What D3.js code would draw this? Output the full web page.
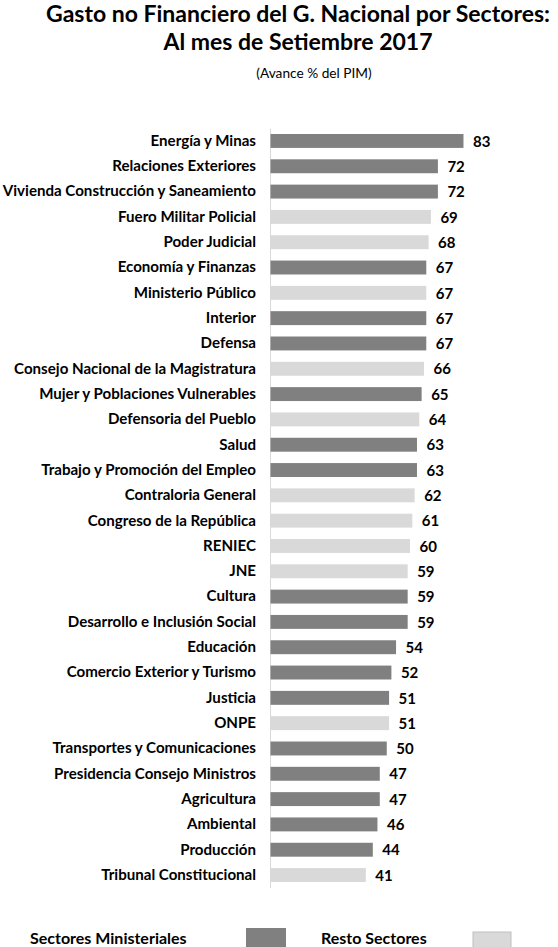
<!DOCTYPE html>
<html>
<head>
<meta charset="utf-8">
<script src="https://cdn.jsdelivr.net/npm/d3@7"></script>
<style>
  html, body { margin: 0; padding: 0; background: #fff; }
  svg text { font-family: Lato, "Noto Sans", sans-serif; }
</style>
</head>
<body>
<div id="chart"></div>
<script>
// Data, top to bottom
const sectors = [
  'Energía y Minas', 'Relaciones Exteriores', 'Vivienda Construcción y Saneamiento',
  'Fuero Militar Policial', 'Poder Judicial', 'Economía y Finanzas', 'Ministerio Público',
  'Interior', 'Defensa', 'Consejo Nacional de la Magistratura', 'Mujer y Poblaciones Vulnerables',
  'Defensoria del Pueblo', 'Salud', 'Trabajo y Promoción del Empleo', 'Contraloria General',
  'Congreso de la República', 'RENIEC', 'JNE', 'Cultura', 'Desarrollo e Inclusión Social',
  'Educación', 'Comercio Exterior y Turismo', 'Justicia', 'ONPE', 'Transportes y Comunicaciones',
  'Presidencia Consejo Ministros', 'Agricultura', 'Ambiental', 'Producción', 'Tribunal Constitucional'
];
const avance = [83, 72, 72, 69, 68, 67, 67, 67, 67, 66, 65, 64, 63, 63, 62, 61, 60, 59, 59, 59,
  54, 52, 51, 51, 50, 47, 47, 46, 44, 41];
// M = Sectores Ministeriales, R = Resto Sectores
const group = ['M', 'M', 'M', 'R', 'R', 'M', 'R', 'M', 'M', 'R', 'M', 'R', 'M', 'M', 'R',
  'R', 'R', 'R', 'M', 'M', 'M', 'M', 'M', 'R', 'M', 'M', 'M', 'M', 'M', 'R'];
const legendLabels = ['Sectores Ministeriales', 'Resto Sectores'];

const width = 558;
const height = 947;
const DARK = '#808080';
const LIGHT = '#d9d9d9';

const rows = sectors.map((s, i) => ({ name: s, value: avance[i], group: group[i] }));

const svg = d3.select('#chart').append('svg')
  .attr('width', width)
  .attr('height', height);

// titles
svg.append('text')
  .attr('x', 298).attr('y', 22)
  .attr('text-anchor', 'middle')
  .attr('font-size', 23).attr('font-weight', 'bold')
  .text('Gasto no Financiero del G. Nacional por Sectores:');
svg.append('text')
  .attr('x', 298).attr('y', 50)
  .attr('text-anchor', 'middle')
  .attr('font-size', 23).attr('font-weight', 'bold')
  .text('Al mes de Setiembre 2017');
svg.append('text')
  .attr('x', 314).attr('y', 78)
  .attr('text-anchor', 'middle')
  .attr('font-size', 13.7)
  .text('(Avance % del PIM)');

// scales
const x = d3.scaleLinear().domain([0, 90]).range([270, 270 + 90 * 2.325]);
const y = d3.scaleBand()
  .domain(sectors)
  .range([128.3, 887.7])
  .paddingInner(0.45)
  .paddingOuter(0.225);

const colorScale = d3.scaleOrdinal().domain(['M', 'R']).range([DARK, LIGHT]);

// category axis
const axis = svg.append('g')
  .attr('transform', `translate(${x(0)},0)`)
  .call(d3.axisLeft(y).tickSize(0).tickSizeOuter(0).tickPadding(14));
axis.select('.domain').attr('stroke', LIGHT);
axis.selectAll('text')
  .attr('font-size', 15.1)
  .attr('font-weight', 'bold')
  .attr('fill', '#000')
  .attr('font-family', 'Lato, "Noto Sans", sans-serif');

// bars
svg.append('g')
  .selectAll('rect')
  .data(rows)
  .enter()
  .append('rect')
  .attr('x', x(0) + 0.5)
  .attr('y', d => y(d.name))
  .attr('width', d => x(d.value) - x(0))
  .attr('height', y.bandwidth())
  .attr('fill', d => colorScale(d.group));

// value labels
svg.append('g')
  .selectAll('text')
  .data(rows)
  .enter()
  .append('text')
  .attr('x', d => x(d.value) + 10)
  .attr('y', d => y(d.name) + y.bandwidth() / 2)
  .attr('dy', '0.38em')
  .attr('font-size', 15)
  .attr('font-weight', 'bold')
  .text(d => d.value);

// legend
const legend = [
  { label: legendLabels[0], tx: 30, bx: 246, by: 928, bw: 40, fill: DARK, stroke: 'none' },
  { label: legendLabels[1], tx: 321, bx: 473, by: 932, bw: 38, fill: LIGHT, stroke: '#bfbfbf' }
];
legend.forEach(l => {
  svg.append('text')
    .attr('x', l.tx).attr('y', 944)
    .attr('font-size', 16).attr('font-weight', 'bold')
    .text(l.label);
  svg.append('rect')
    .attr('x', l.bx).attr('y', l.by)
    .attr('width', l.bw).attr('height', 24)
    .attr('fill', l.fill)
    .attr('stroke', l.stroke);
});
</script>
</body>
</html>
